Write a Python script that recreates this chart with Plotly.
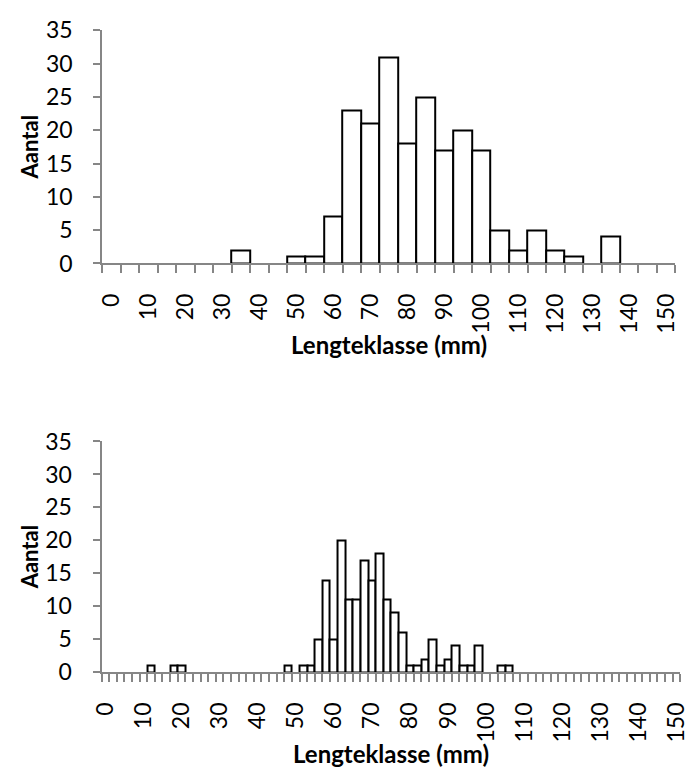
import plotly.graph_objects as go

# ---- data ----
top_lengths = [0, 5, 10, 15, 20, 25, 30, 35, 40, 45, 50, 55, 60, 65, 70, 75,
               80, 85, 90, 95, 100, 105, 110, 115, 120, 125, 130, 135, 140, 145, 150]
top_counts = [0, 0, 0, 0, 0, 0, 0, 2, 0, 0, 1, 1, 7, 23, 21, 31,
              18, 25, 17, 20, 17, 5, 2, 5, 2, 1, 0, 4, 0, 0, 0]

bottom_lengths = [0, 2, 4, 6, 8, 10, 12, 14, 16, 18, 20, 22, 24, 26, 28, 30,
                  32, 34, 36, 38, 40, 42, 44, 46, 48, 50, 52, 54, 56, 58, 60,
                  62, 64, 66, 68, 70, 72, 74, 76, 78, 80, 82, 84, 86, 88, 90,
                  92, 94, 96, 98, 100, 102, 104, 106, 108, 110, 112, 114, 116,
                  118, 120, 122, 124, 126, 128, 130, 132, 134, 136, 138, 140,
                  142, 144, 146, 148, 150]
bottom_counts = [0, 0, 0, 0, 0, 0, 1, 0, 0, 1, 1, 0, 0, 0, 0, 0,
                 0, 0, 0, 0, 0, 0, 0, 0, 1, 0, 1, 1, 5, 14, 5,
                 20, 11, 11, 17, 14, 18, 11, 9, 6, 1, 1, 2, 5, 1, 2,
                 4, 1, 1, 4, 0, 0, 1, 1, 0, 0, 0, 0, 0,
                 0, 0, 0, 0, 0, 0, 0, 0, 0, 0, 0, 0,
                 0, 0, 0, 0, 0]

label_values = [0, 10, 20, 30, 40, 50, 60, 70, 80, 90, 100, 110, 120, 130, 140, 150]
tick_labels = [str(v) for v in label_values]

x_title = "Lengteklasse (mm)"
y_title = "Aantal"

# ---- style ----
FONT = "Lato"
AXIS_COLOR = "#868686"
W, H = 700, 782

fig = go.Figure()


def add_hist(lengths, counts, step, xa, ya):
    xs = [v + step / 2 for v, c in zip(lengths, counts) if c > 0]
    ys = [c for c in counts if c > 0]
    fig.add_trace(go.Bar(
        x=xs, y=ys, width=step, xaxis=xa, yaxis=ya,
        marker=dict(color="white", line=dict(color="black", width=2)),
        showlegend=False, hoverinfo="x+y",
    ))


add_hist(top_lengths, top_counts, 5, "x", "y")
add_hist(bottom_lengths, bottom_counts, 2, "x2", "y2")


def xaxis_cfg(domain, lengths, step, yanchor):
    end = lengths[-1] + step
    return dict(
        domain=domain, range=[0, end], anchor=yanchor,
        showline=True, linecolor=AXIS_COLOR, linewidth=2,
        showgrid=False, zeroline=False,
        tickmode="array",
        tickvals=[v + step / 2 for v in label_values],
        ticktext=tick_labels, tickangle=-90,
        ticks="", ticklabelstandoff=19,
        tickfont=dict(family=FONT, size=23, color="black"),
        minor=dict(tickmode="array", tickvals=lengths + [end],
                   ticks="outside", ticklen=8, tickwidth=2,
                   tickcolor=AXIS_COLOR, showgrid=False),
    )


def yaxis_cfg(domain, xanchor):
    return dict(
        domain=domain, range=[0, 35], anchor=xanchor,
        tickmode="linear", tick0=0, dtick=5,
        showline=True, linecolor=AXIS_COLOR, linewidth=2,
        ticks="outside", ticklen=7, tickwidth=2, tickcolor=AXIS_COLOR,
        showgrid=False, zeroline=False, ticklabelstandoff=16,
        tickfont=dict(family=FONT, size=23, color="black"),
    )


top_x = [93 / W, 684 / W]
top_y = [1 - 257.7 / H, 1 - 16 / H]
bot_x = [92.3 / W, 689 / W]
bot_y = [1 - 681.7 / H, 1 - 442.3 / H]

fig.update_layout(
    width=W, height=H,
    margin=dict(l=0, r=0, t=0, b=0),
    paper_bgcolor="white", plot_bgcolor="white",
    bargap=0,
    xaxis=xaxis_cfg(top_x, top_lengths, 5, "y"),
    yaxis=yaxis_cfg(top_y, "x"),
    xaxis2=xaxis_cfg(bot_x, bottom_lengths, 2, "y2"),
    yaxis2=yaxis_cfg(bot_y, "x2"),
)

ann = []
for dx, dy, ty in [(top_x, top_y, 342), (bot_x, bot_y, 766)]:
    ann.append(dict(text=x_title, xref="paper", yref="paper",
                    x=(dx[0] + dx[1]) / 2, y=1 - ty / H,
                    xanchor="center", yanchor="middle", showarrow=False,
                    font=dict(family=FONT, size=24, color="black", weight="bold")))
    ann.append(dict(text=y_title, xref="paper", yref="paper",
                    x=18 / W, y=(dy[0] + dy[1]) / 2, textangle=-90,
                    xanchor="center", yanchor="middle", showarrow=False,
                    font=dict(family=FONT, size=22, color="black", weight="bold")))
fig.update_layout(annotations=ann)

fig.write_html("out.html")
